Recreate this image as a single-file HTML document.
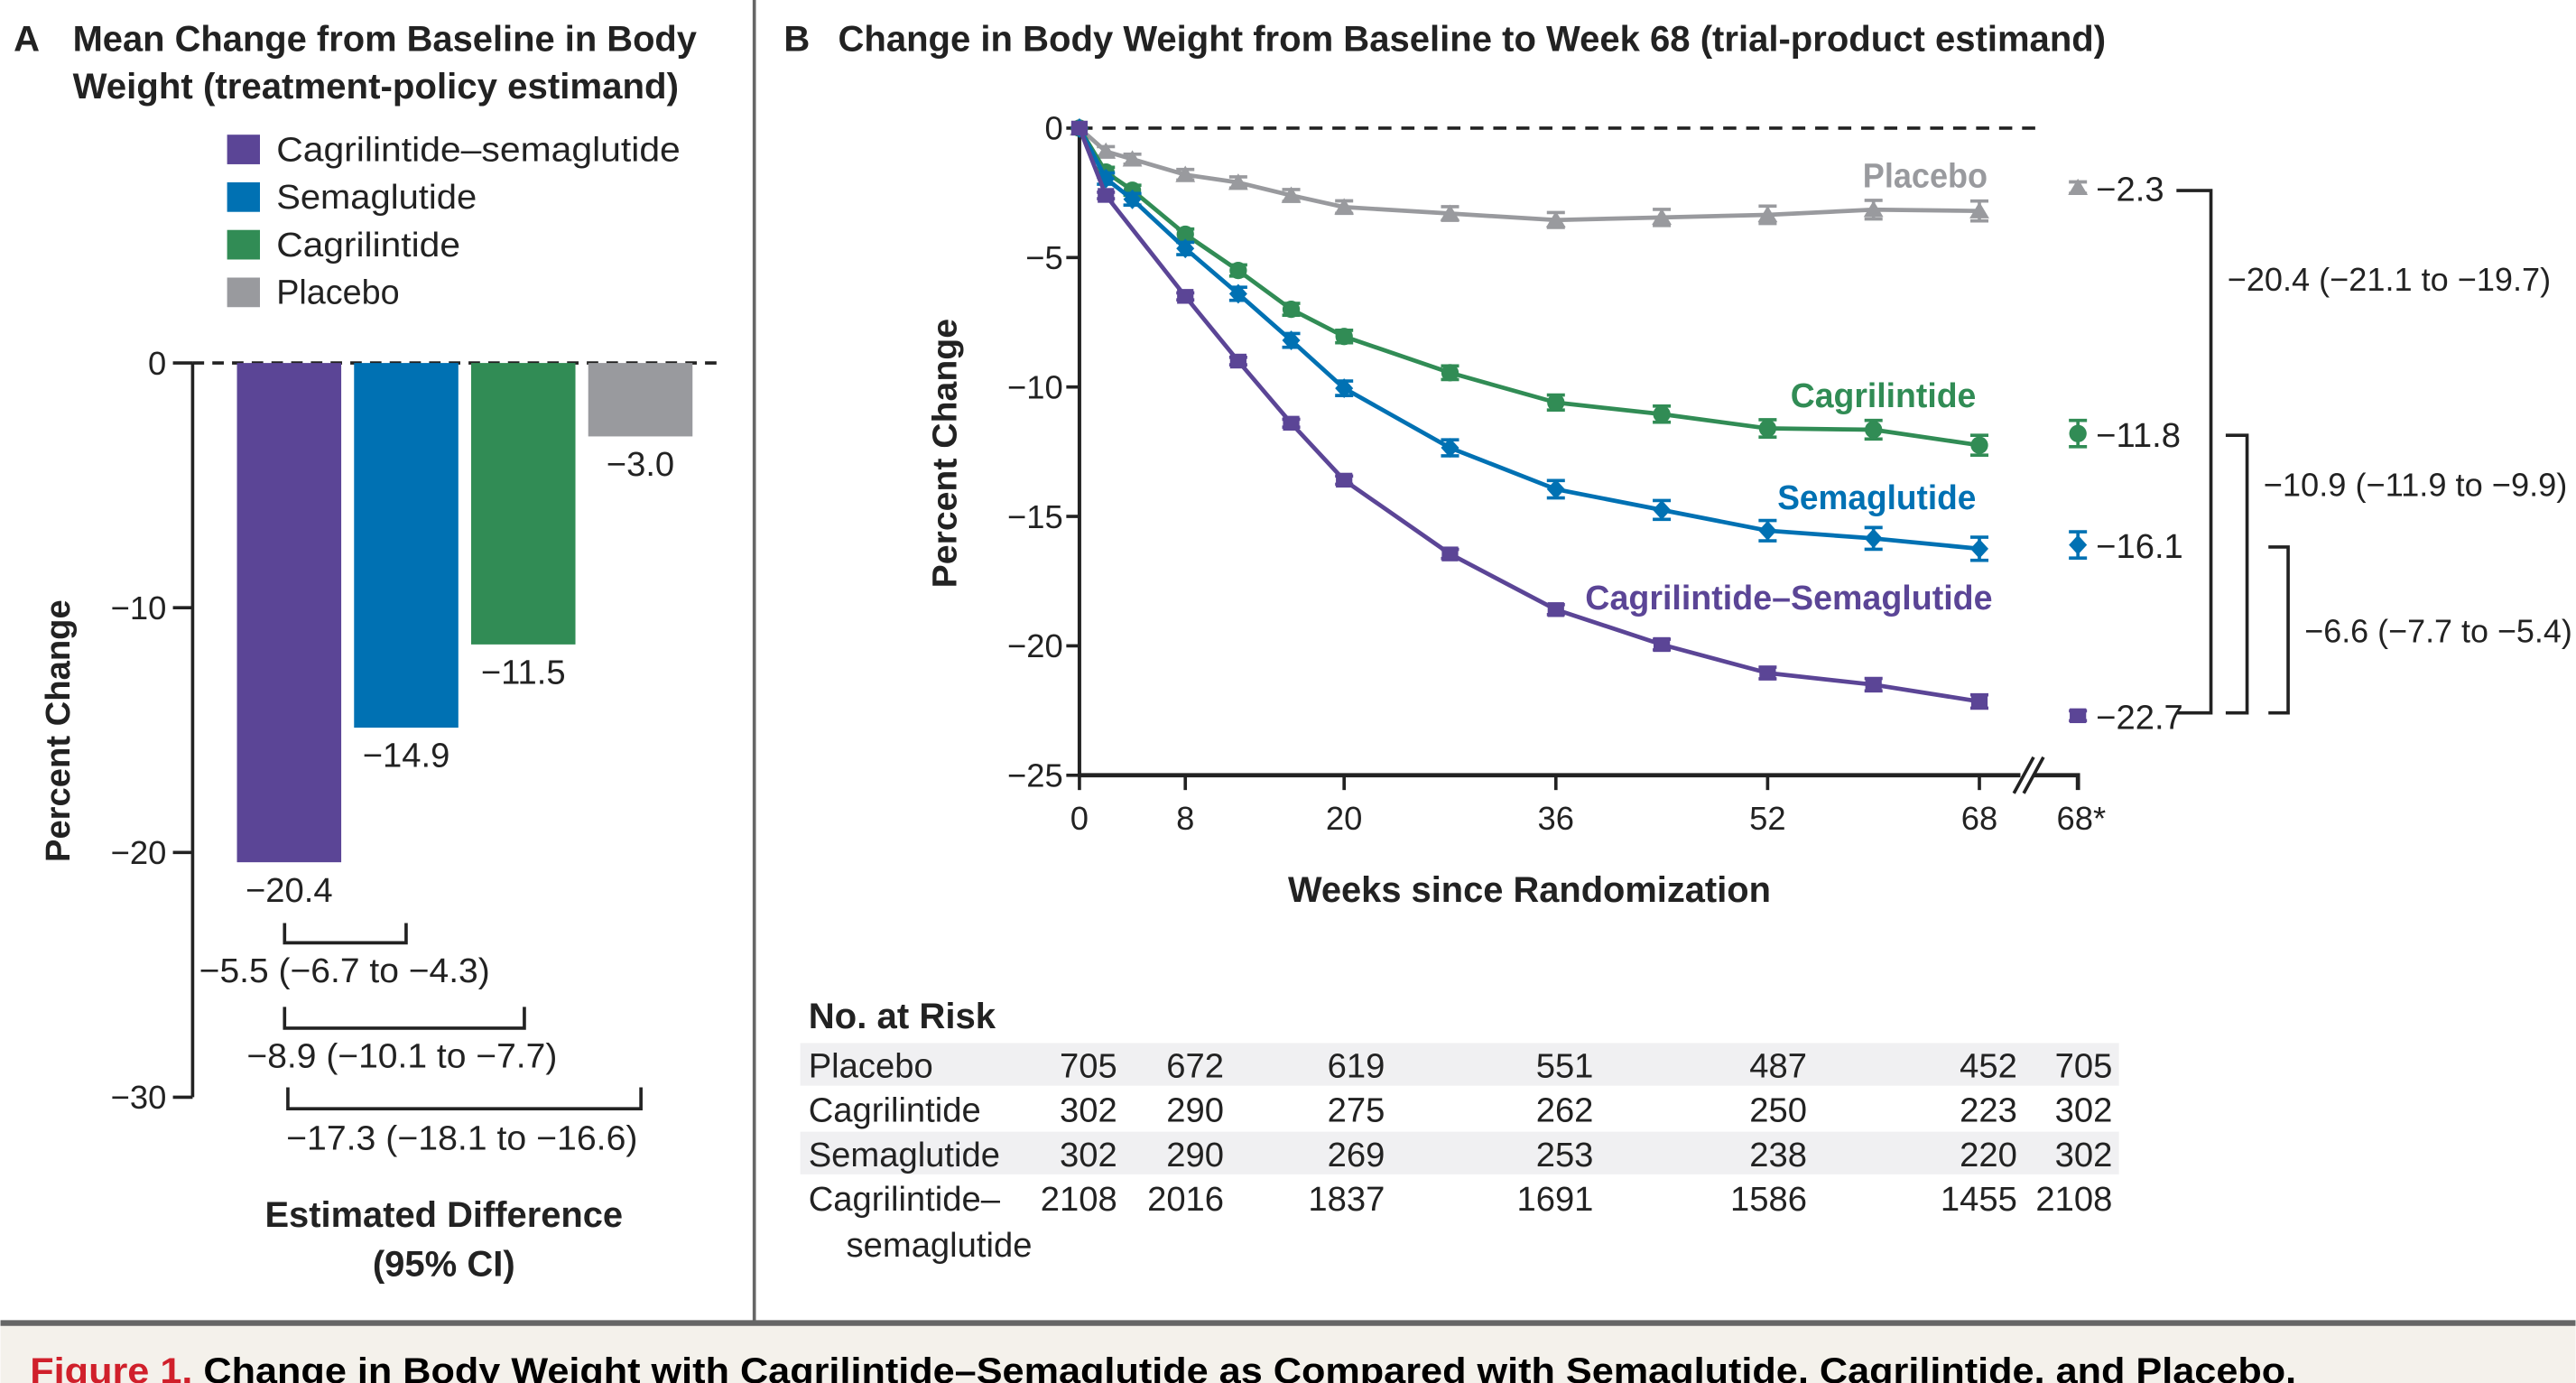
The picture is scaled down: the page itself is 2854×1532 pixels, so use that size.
<!DOCTYPE html>
<html><head><meta charset="utf-8"><style>
html,body{margin:0;padding:0;background:#fff;}
svg{display:block;}
text{font-family:"Liberation Sans",sans-serif;}
</style></head><body>
<svg id="fig" width="2854" height="1532" viewBox="0 0 1568 842" xmlns="http://www.w3.org/2000/svg">
<rect x="0" y="0" width="1568" height="842" fill="#fff"/>
<rect x="0" y="806" width="1568" height="36" fill="#f4f1eb"/>
<line x1="0" y1="805.5" x2="1568" y2="805.5" stroke="#666" stroke-width="3.5"/>
<line x1="459" y1="0" x2="459" y2="805" stroke="#666" stroke-width="2"/>
<text x="18" y="842" font-size="22" font-weight="bold" textLength="1380" lengthAdjust="spacingAndGlyphs"><tspan fill="#d0202b">Figure 1.</tspan> Change in Body Weight with Cagrilintide–Semaglutide as Compared with Semaglutide, Cagrilintide, and Placebo.</text>

<!-- Panel A -->
<g id="panelA">
<text x="8" y="31" font-size="22" font-weight="bold" fill="#222">A</text>
<text x="44" y="31" font-size="22" font-weight="bold" fill="#222" textLength="380" lengthAdjust="spacingAndGlyphs">Mean Change from Baseline in Body</text>
<text x="44" y="60" font-size="22" font-weight="bold" fill="#222" textLength="369" lengthAdjust="spacingAndGlyphs">Weight (treatment-policy estimand)</text>
<g>
<rect x="138" y="82" width="20" height="18" fill="#5b4596"/>
<text x="168" y="98" font-size="21" fill="#222" textLength="246" lengthAdjust="spacingAndGlyphs">Cagrilintide–semaglutide</text>
<rect x="138" y="111" width="20" height="18" fill="#0071b3"/>
<text x="168" y="127" font-size="21" fill="#222" textLength="122" lengthAdjust="spacingAndGlyphs">Semaglutide</text>
<rect x="138" y="140" width="20" height="18" fill="#318c55"/>
<text x="168" y="156" font-size="21" fill="#222" textLength="112" lengthAdjust="spacingAndGlyphs">Cagrilintide</text>
<rect x="138" y="169" width="20" height="18" fill="#999a9e"/>
<text x="168" y="185" font-size="21" fill="#222" textLength="75" lengthAdjust="spacingAndGlyphs">Placebo</text>
</g>
<g id="aAxis"></g>
<g id="aBars"></g>
<text transform="translate(42,445) rotate(-90)" text-anchor="middle" font-size="21" font-weight="bold" fill="#222">Percent Change</text>
<g fill="none" stroke="#222" stroke-width="2">
<path d="M173,562 V574 H247 V562"/>
<path d="M173,613 V626 H319 V613"/>
<path d="M175,662 V675 H390 V662"/>
</g>
<text x="121" y="598" font-size="21" fill="#222" textLength="177" lengthAdjust="spacingAndGlyphs">−5.5 (−6.7 to −4.3)</text>
<text x="150" y="650" font-size="21" fill="#222" textLength="189" lengthAdjust="spacingAndGlyphs">−8.9 (−10.1 to −7.7)</text>
<text x="174" y="700" font-size="21" fill="#222" textLength="214" lengthAdjust="spacingAndGlyphs">−17.3 (−18.1 to −16.6)</text>
<text x="270" y="747" text-anchor="middle" font-size="22" font-weight="bold" fill="#222" textLength="218" lengthAdjust="spacingAndGlyphs">Estimated Difference</text>
<text x="270" y="777" text-anchor="middle" font-size="22" font-weight="bold" fill="#222">(95% CI)</text>
</g>

<!-- Panel B -->
<g id="panelB">
<text x="477" y="31" font-size="22" font-weight="bold" fill="#222">B</text>
<text x="510" y="31" font-size="22" font-weight="bold" fill="#222" textLength="772" lengthAdjust="spacingAndGlyphs">Change in Body Weight from Baseline to Week 68 (trial-product estimand)</text>
<text transform="translate(582,276) rotate(-90)" text-anchor="middle" font-size="21" font-weight="bold" fill="#222" textLength="164" lengthAdjust="spacingAndGlyphs">Percent Change</text>
<text x="931" y="549" text-anchor="middle" font-size="22" font-weight="bold" fill="#222" textLength="294" lengthAdjust="spacingAndGlyphs">Weeks since Randomization</text>
<g id="bAxis"></g>
<g id="bSeries"></g>
<g id="bEnd"></g>
<text x="1210" y="114" text-anchor="end" font-size="21" font-weight="bold" fill="#999a9e" textLength="76" lengthAdjust="spacingAndGlyphs">Placebo</text>
<text x="1203" y="248" text-anchor="end" font-size="21" font-weight="bold" fill="#318c55" textLength="113" lengthAdjust="spacingAndGlyphs">Cagrilintide</text>
<text x="1203" y="310" text-anchor="end" font-size="21" font-weight="bold" fill="#0071b3" textLength="121" lengthAdjust="spacingAndGlyphs">Semaglutide</text>
<text x="1213" y="371" text-anchor="end" font-size="21" font-weight="bold" fill="#5b4596" textLength="248" lengthAdjust="spacingAndGlyphs">Cagrilintide–Semaglutide</text>
<g fill="none" stroke="#222" stroke-width="2">
<path d="M1325,116 H1346 V434 H1325"/>
<path d="M1355,265 H1368 V434 H1355"/>
<path d="M1381,333 H1393 V434 H1381"/>
</g>
<text x="1356" y="177" font-size="20" fill="#222" textLength="197" lengthAdjust="spacingAndGlyphs">−20.4 (−21.1 to −19.7)</text>
<text x="1378" y="302" font-size="20" fill="#222" textLength="185" lengthAdjust="spacingAndGlyphs">−10.9 (−11.9 to −9.9)</text>
<text x="1403" y="391" font-size="20" fill="#222" textLength="163" lengthAdjust="spacingAndGlyphs">−6.6 (−7.7 to −5.4)</text>
<text x="492" y="626" font-size="22" font-weight="bold" fill="#222" textLength="114" lengthAdjust="spacingAndGlyphs">No. at Risk</text>
<g id="riskTable"></g>
</g>
</svg>
<script>
// Panel A data
const barGroups = ["Cagrilintide–semaglutide","Semaglutide","Cagrilintide","Placebo"];
const barValues = [-20.4,-14.9,-11.5,-3.0];
const barLabels = ["−20.4","−14.9","−11.5","−3.0"];
const aTicks = [0,-10,-20,-30];
const aTickLabels = ["0","−10","−20","−30"];
// Panel B data
const weeks = [0,2,4,8,12,16,20,28,36,44,52,60,68];
const comboWeeks = [0,2,8,12,16,20,28,36,44,52,60,68];
const placeboVals = [0,-0.9,-1.2,-1.8,-2.1,-2.6,-3.05,-3.3,-3.55,-3.45,-3.35,-3.15,-3.2];
const cagriVals = [0,-1.7,-2.4,-4.1,-5.5,-7.0,-8.05,-9.45,-10.6,-11.05,-11.6,-11.65,-12.25];
const semaVals = [0,-1.95,-2.75,-4.65,-6.4,-8.2,-10.05,-12.35,-13.95,-14.75,-15.55,-15.85,-16.25];
const comboVals = [0,-2.6,-6.5,-9.0,-11.4,-13.6,-16.45,-18.6,-19.95,-21.05,-21.5,-22.15];
const endWeekVals = [-2.3,-11.8,-16.1,-22.7];
const endWeekLabels = ["−2.3","−11.8","−16.1","−22.7"];
const bYTicks = [0,-5,-10,-15,-20,-25];
const bYTickLabels = ["0","−5","−10","−15","−20","−25"];
const bXTicks = [0,8,20,36,52,68];
const riskGroups = ["Placebo","Cagrilintide","Semaglutide","Cagrilintide–"];
const riskPlacebo = [705,672,619,551,487,452,705];
const riskCagri = [302,290,275,262,250,223,302];
const riskSema = [302,290,269,253,238,220,302];
const riskCombo = [2108,2016,1837,1691,1586,1455,2108];

const NS="http://www.w3.org/2000/svg";
function mk(tag,attrs,parent,txt){const e=document.createElementNS(NS,tag);for(const k in attrs)e.setAttribute(k,attrs[k]);if(txt!==undefined)e.textContent=txt;parent.appendChild(e);return e;}

// Panel A axis
const yA = v => 221 + (-v)*(668-221)/30;
const aAxis=document.getElementById('aAxis');
let l=mk('line',{x1:117,y1:yA(0),x2:117,y2:yA(-30),stroke:'#222','stroke-width':2},aAxis);


aTicks.forEach((t,i)=>{
  let tk=mk('line',{x1:105,y1:yA(t),x2:117,y2:yA(t),stroke:'#222','stroke-width':2},aAxis);
  
  
  let tl=mk('text',{x:101,y:yA(t)+7,'text-anchor':'end','font-size':20,fill:'#222'},aAxis,aTickLabels[i]);
  
  
});
let dz=mk('line',{x1:117,y1:yA(0),x2:440,y2:yA(0),stroke:'#222','stroke-width':2,'stroke-dasharray':'7,5'},aAxis);


const barColors=['#5b4596','#0071b3','#318c55','#999a9e'];
const aBars=document.getElementById('aBars');
barValues.forEach((v,i)=>{
  const x=144+i*71.3, w=63.5;
  let r=mk('rect',{x:x,y:yA(0),width:w,height:yA(v)-yA(0),fill:barColors[i]},aBars);
  
  
  let t=mk('text',{x:x+w/2,y:yA(v)+24,'text-anchor':'middle','font-size':21,fill:'#222'},aBars,barLabels[i]);
  
  
});

// Panel B axes
const x0=657, x68=1205;
const xB = w => x0 + w*(x68-x0)/68;
const yB = v => 78 + (-v)*(472-78)/25;
const bAxis=document.getElementById('bAxis');
let ya=mk('line',{x1:x0,y1:yB(0),x2:x0,y2:yB(-25),stroke:'#222','stroke-width':2.2},bAxis);


let xa=mk('path',{d:`M${x0},${yB(-25)} H1265 V${yB(-25)+9}`,stroke:'#222','stroke-width':2.6,fill:'none'},bAxis);


let brkw=mk('rect',{x:1230,y:469,width:8,height:6,fill:'#fff'},bAxis);


let brk=mk('path',{d:'M1226,483 L1238,461 M1232,483 L1244,461',stroke:'#222','stroke-width':2,fill:'none'},bAxis);


let dz2=mk('line',{x1:x0,y1:yB(0),x2:1245,y2:yB(0),stroke:'#222','stroke-width':2,'stroke-dasharray':'8,6'},bAxis);


bYTicks.forEach((t,i)=>{
  let tk=mk('line',{x1:x0-8,y1:yB(t),x2:x0,y2:yB(t),stroke:'#222','stroke-width':2},bAxis);
  
  
  let tl=mk('text',{x:x0-10,y:yB(t)+7,'text-anchor':'end','font-size':20,fill:'#222'},bAxis,bYTickLabels[i]);
  
  
});
bXTicks.forEach(t=>{
  let tk=mk('line',{x1:xB(t),y1:yB(-25),x2:xB(t),y2:yB(-25)+9,stroke:'#222','stroke-width':2},bAxis);
  
  
  let tl=mk('text',{x:xB(t),y:505,'text-anchor':'middle','font-size':20,fill:'#222'},bAxis,String(t));
  
  
});
let t68=mk('text',{x:1252,y:505,'font-size':20,fill:'#222'},bAxis,'68*');



// Markers
function marker(shape,x,y,c,g){
  let m;
  if(shape==='tri') m=mk('path',{d:`M${x},${y-5.5} L${x+6},${y+4.5} L${x-6},${y+4.5}Z`,fill:c},g);
  else if(shape==='circ') m=mk('circle',{cx:x,cy:y,r:5.3,fill:c},g);
  else if(shape==='dia') m=mk('path',{d:`M${x},${y-6} L${x+5.5},${y} L${x},${y+6} L${x-5.5},${y}Z`,fill:c},g);
  else m=mk('rect',{x:x-5,y:y-4.5,width:10,height:9,fill:c},g);
  return m;
}
function errbar(x,y,h,c,g){
  return mk('path',{d:`M${x-5.5},${y-h} H${x+5.5} M${x},${y-h} V${y+h} M${x-5.5},${y+h} H${x+5.5}`,stroke:c,'stroke-width':2,fill:'none'},g);
}
const bSeries=document.getElementById('bSeries');
const seriesDefs=[
  {name:'placebo',w:weeks,v:placeboVals,c:'#999a9e',s:'tri',e:0.3},
  {name:'cagrilintide',w:weeks,v:cagriVals,c:'#318c55',s:'circ',e:0.3},
  {name:'semaglutide',w:weeks,v:semaVals,c:'#0071b3',s:'dia',e:0.35},
  {name:'combo',w:comboWeeks,v:comboVals,c:'#5b4596',s:'sq',e:0.2}
];
seriesDefs.forEach(sd=>{
  const g=mk('g',{},bSeries);
  
  
  const pts=sd.w.map((w,i)=>xB(w)+','+yB(sd.v[i])).join(' ');
  let pl=mk('polyline',{points:pts,fill:'none',stroke:sd.c,'stroke-width':2.6,'stroke-linejoin':'round'},g);
  
  
  sd.w.forEach((w,i)=>{
    if(i>0){
      let eb=errbar(xB(w),yB(sd.v[i]),sd.e*15.76*(0.6+w/100),sd.c,g);
      
      
    }
    let m=marker(sd.s,xB(w),yB(sd.v[i]),sd.c,g);
    
    
  });
});
const bEnd=document.getElementById('bEnd');
const endOrder=[{n:'placebo',c:'#999a9e',s:'tri'},{n:'cagrilintide',c:'#318c55',s:'circ'},{n:'semaglutide',c:'#0071b3',s:'dia'},{n:'combo',c:'#5b4596',s:'sq'}];
endWeekVals.forEach((v,i)=>{
  const x=1265,y=yB(v),d=endOrder[i];
  let eb=errbar(x,y,i===0?3.5:(i===3?3:8),d.c,bEnd);
  
  
  let m=marker(d.s,x,y,d.c,bEnd);
  
  
  let t=mk('text',{x:1276,y:y+8,'font-size':21,fill:'#222'},bEnd,endWeekLabels[i]);
  
  
});

// Risk table
const rt=document.getElementById('riskTable');
const rowY=[648,675,702,729];
[0,2].forEach(i=>{
  let r=mk('rect',{x:487,y:rowY[i]-13,width:803,height:26,fill:'#f0f0f2'},rt);
  
  
});
const colEnds=[680,745,843,970,1100,1228,1286];
const rows=[riskPlacebo,riskCagri,riskSema,riskCombo];
rows.forEach((row,ri)=>{
  let lab=mk('text',{x:492,y:rowY[ri]+8,'font-size':21,fill:'#222'},rt,riskGroups[ri]);
  
  
  row.forEach((n,ci)=>{
    let t=mk('text',{x:colEnds[ci],y:rowY[ri]+8,'text-anchor':'end','font-size':21,fill:'#222'},rt,String(n));
    
    
  });
});
let lab2=mk('text',{x:515,y:765,'font-size':21,fill:'#222'},rt,'semaglutide');


</script>
</body></html>
